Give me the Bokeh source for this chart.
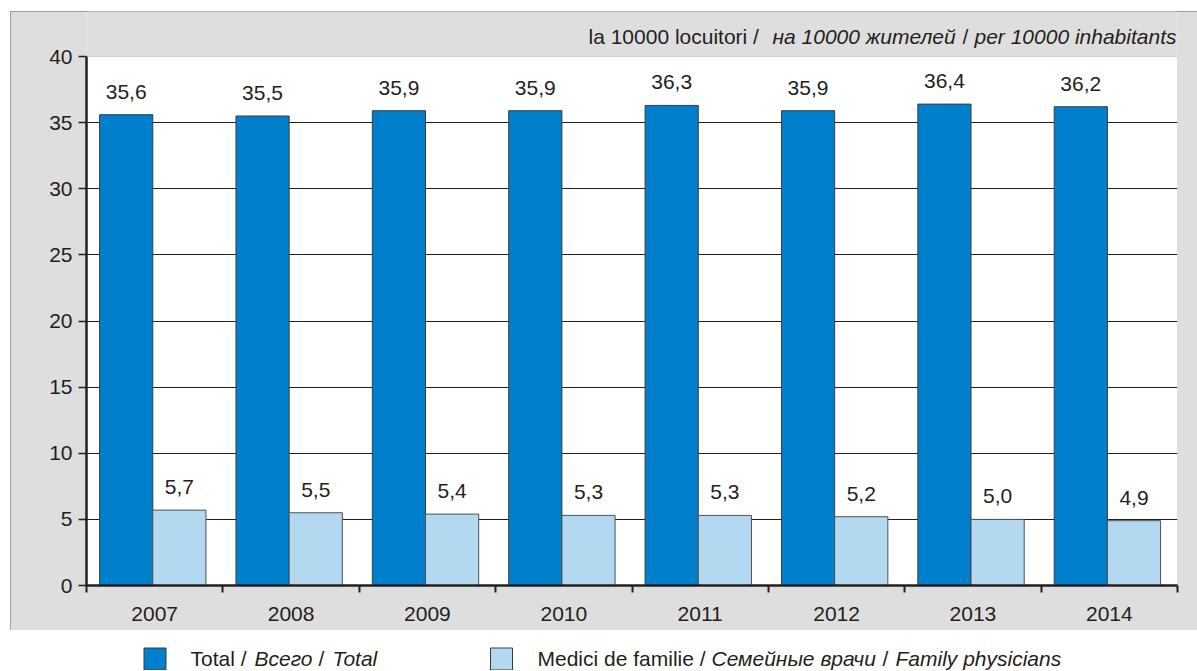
import numpy as np
from bokeh.plotting import figure
from bokeh.models import Range1d, FixedTicker, Label, ColumnDataSource, BoxAnnotation
from bokeh.layouts import column
from bokeh.embed import file_html
from bokeh.resources import INLINE
from bokeh.core.properties import value

# ---------------- data ----------------
years = ["2007", "2008", "2009", "2010", "2011", "2012", "2013", "2014"]
total = [35.6, 35.5, 35.9, 35.9, 36.3, 35.9, 36.4, 36.2]
family = [5.7, 5.5, 5.4, 5.3, 5.3, 5.2, 5.0, 4.9]
y_ticks = [0, 5, 10, 15, 20, 25, 30, 35, 40]

unit_parts = [("la 10000 locuitori /", "normal"), ("на 10000 жителей", "italic"),
              ("/", "normal"), ("per 10000 inhabitants", "italic")]
legend_total_parts = [("Total /", "normal"), ("Всего", "italic"), ("/", "normal"), ("Total", "italic")]
legend_family_parts = [("Medici de familie /", "normal"), ("Семейные врачи", "italic"),
                       ("/", "normal"), ("Family physicians", "italic")]

# ---------------- style ----------------
FONT = "Liberation Sans"
TXT = "#231f20"
DARK = "#0080cc"
LIGHT = "#b3d9f0"
BG = "#dedede"
FS = "21px"
BAR_W = 0.39
DARK_SHIFT = -0.209
LIGHT_SHIFT = 0.181

FIG_W = 1187
BORDER_L, BORDER_R = 76, 20
HEAD_PX = 45          # gray strip above the plot area (inside frame)
PLOT_PX = 529         # height of 0..40
BOTTOM_PX = 45
PPU = PLOT_PX / y_ticks[-1]
Y_MAX = y_ticks[-1] + HEAD_PX / PPU

n = len(years)
centers = np.arange(n) + 0.5

src = ColumnDataSource(dict(
    x_total=centers + DARK_SHIFT,
    x_family=centers + LIGHT_SHIFT,
    total=total,
    family=family,
    total_lbl=[f"{v:.1f}".replace(".", ",") for v in total],
    family_lbl=[f"{v:.1f}".replace(".", ",") for v in family],
))

p = figure(width=FIG_W, height=HEAD_PX + PLOT_PX + BOTTOM_PX,
           x_range=Range1d(0, n), y_range=Range1d(0, Y_MAX),
           output_backend="svg", toolbar_location=None,
           min_border_left=BORDER_L, min_border_right=BORDER_R,
           min_border_top=0, min_border_bottom=BOTTOM_PX,
           border_fill_color=BG, background_fill_color=BG, outline_line_color=None)
p.margin = (11, 0, 0, 10)
p.styles = {"outline": "1px solid #8a8a8a", "outline-offset": "-1px"}

# white plot area with grey top/right border
p.add_layout(BoxAnnotation(left=0, right=n, bottom=0, top=y_ticks[-1], fill_color="white",
                           fill_alpha=1, line_color="#808080", line_width=1, level="image"))

# x axis: labels at centres, ticks at boundaries
p.xaxis.ticker = FixedTicker(ticks=list(centers), minor_ticks=list(range(n + 1)))
p.xaxis.major_label_overrides = {float(c): y for c, y in zip(centers, years)}
p.xaxis.major_tick_line_color = None
p.xaxis.major_tick_out = 0
p.xaxis.major_tick_in = 0
p.xaxis.minor_tick_line_color = TXT
p.xaxis.minor_tick_line_width = 2
p.xaxis.minor_tick_out = 7
p.xaxis.minor_tick_in = 0
p.xaxis.major_label_standoff = 14

p.yaxis.ticker = FixedTicker(ticks=y_ticks)
p.yaxis.bounds = (0, y_ticks[-1])
p.yaxis.major_tick_out = 8
p.yaxis.major_tick_in = 0
p.yaxis.major_tick_line_width = 1.5
p.yaxis.major_tick_line_color = TXT
p.yaxis.minor_tick_line_color = None
p.yaxis.major_label_standoff = 6

for ax in (p.xaxis, p.yaxis):
    ax.axis_line_width = 2.5
    ax.axis_line_color = TXT
    ax.major_label_text_font = FONT
    ax.major_label_text_font_size = FS
    ax.major_label_text_color = TXT

p.xgrid.visible = False
p.ygrid.ticker = FixedTicker(ticks=y_ticks[1:-1])
p.ygrid.grid_line_color = TXT
p.ygrid.grid_line_width = 1

p.vbar(x="x_total", top="total", width=BAR_W, source=src,
       fill_color=DARK, line_color="#3a3a3a", line_width=1)
p.vbar(x="x_family", top="family", width=BAR_W, source=src,
       fill_color=LIGHT, line_color="#505050", line_width=1)

p.text(x="x_total", y="total", text="total_lbl", source=src, y_offset=-23,
       text_align="center", text_baseline="middle", text_font=value(FONT),
       text_font_size=FS, text_color=TXT)
p.text(x="x_family", y="family", text="family_lbl", source=src, y_offset=-23,
       text_align="center", text_baseline="middle", text_font=value(FONT),
       text_font_size=FS, text_color=TXT)

# unit header (offsets from the plot area's right edge, 20px above its top)
HEADER_X = [-589, -405, -215, -203]
for (txt, style), dx in zip(unit_parts, HEADER_X):
    p.add_layout(Label(x=n, y=y_ticks[-1] + 20 / PPU, x_offset=dx, text=txt,
                       text_align="left", text_baseline="middle", text_font=FONT,
                       text_font_style=style, text_font_size=FS, text_color=TXT))

# ---------------- legend strip ----------------
LH = 40
lg = figure(width=FIG_W, height=LH, x_range=Range1d(BORDER_L, FIG_W - BORDER_R),
            y_range=Range1d(0, LH), output_backend="svg", toolbar_location=None,
            x_axis_type=None, y_axis_type=None,
            min_border_left=BORDER_L, min_border_right=BORDER_R,
            min_border_top=0, min_border_bottom=0,
            outline_line_color=None, border_fill_color="white", background_fill_color="white")
lg.margin = (0, 0, 0, 10)
lg.grid.visible = False

SW = 22
sw_src = ColumnDataSource(dict(x=[144.5, 491.0], y=[11.5, 11.5], c=[DARK, LIGHT]))
lg.rect(x="x", y="y", width=SW, height=SW, fill_color="c", line_color="#3a3a3a",
        line_width=1, source=sw_src)

LEG1_X = [180, 244, 308, 322]
LEG2_X = [527, 701, 872, 885]
for parts, xs in ((legend_total_parts, LEG1_X), (legend_family_parts, LEG2_X)):
    for (txt, style), x in zip(parts, xs):
        lg.add_layout(Label(x=x, y=12, text=txt, text_align="left", text_baseline="middle",
                            text_font=FONT, text_font_style=style, text_font_size=FS,
                            text_color=TXT))

layout = column(p, lg, spacing=0)
open("out.html", "w").write(file_html(layout, INLINE))
